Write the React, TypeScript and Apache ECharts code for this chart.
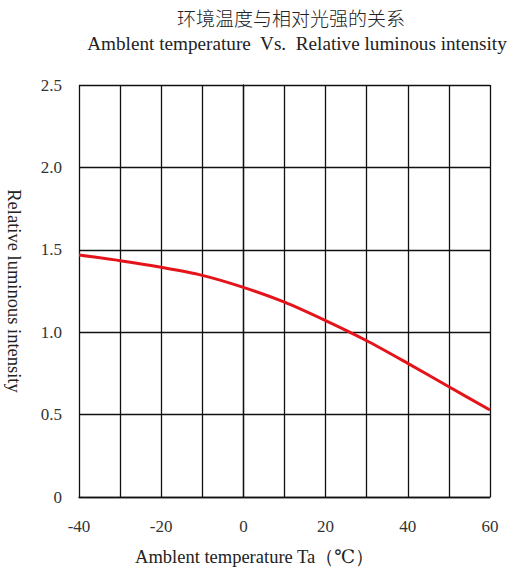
import React, { useEffect, useRef } from "react";
import * as echarts from "echarts";

const temperatures = [-40, -30, -20, -10, 0, 10, 20, 30, 40, 50, 60];
const intensity = [1.468, 1.434, 1.394, 1.345, 1.272, 1.182, 1.07, 0.948, 0.811, 0.669, 0.528];
const titleCn = "环境温度与相对光强的关系";
const titleEn = "Amblent temperature  Vs.  Relative luminous intensity";
const xName = "Amblent temperature Ta（℃）";
const yName = "Relative luminous intensity";

export default function App() {
  const ref = useRef<HTMLDivElement>(null);
  useEffect(() => {
    document.body.style.margin = "0";
    const chart = echarts.init(ref.current!, undefined, { renderer: "svg" });
    const serif = "'Liberation Serif', 'DejaVu Serif', serif";
    chart.setOption({
      animation: false,
      backgroundColor: "#fff",
      graphic: [
        {
          type: "text",
          x: 291,
          y: 17,
          style: {
            text: titleCn,
            fontFamily: "'Noto Sans CJK SC'",
            fontSize: 19,
            fontWeight: 300,
            fill: "#222",
            align: "center",
            verticalAlign: "middle",
          },
        },
        {
          type: "text",
          x: 297,
          y: 43,
          style: {
            text: titleEn,
            fontFamily: serif,
            fontSize: 19.2,
            fill: "#222",
            align: "center",
            verticalAlign: "middle",
          },
        },
      ],
      grid: { left: 79, right: 25, top: 85, bottom: 71, containLabel: false, outerBoundsMode: "none" },
      xAxis: {
        type: "value",
        min: -40,
        max: 60,
        interval: 10,
        name: xName,
        nameLocation: "middle",
        nameGap: 50,
        nameTextStyle: { fontFamily: serif, fontSize: 18.5, color: "#222", padding: [0, 60, 0, 0] },
        axisLine: { show: true, lineStyle: { color: "#111", width: 1.3 } },
        axisTick: { show: false },
        axisLabel: {
          margin: 21,
          fontFamily: serif,
          fontSize: 17,
          color: "#333",
          formatter: (v: number) => (v % 20 === 0 ? String(v) : ""),
        },
        splitLine: { show: true, lineStyle: { color: "#111", width: 1.3 } },
      },
      yAxis: {
        type: "value",
        min: 0,
        max: 2.5,
        interval: 0.5,
        name: yName,
        nameLocation: "middle",
        nameGap: 56,
        nameRotate: -90,
        nameTextStyle: { fontFamily: serif, fontSize: 18.5, color: "#222" },
        axisLine: { show: true, lineStyle: { color: "#111", width: 1.3 } },
        axisTick: { show: false },
        axisLabel: {
          margin: 17,
          fontFamily: serif,
          fontSize: 17,
          color: "#333",
          formatter: (v: number) => (v === 0 ? "0" : v.toFixed(1)),
        },
        splitLine: { show: true, lineStyle: { color: "#111", width: 1.3 } },
      },
      series: [
        {
          type: "line",
          data: temperatures.map((t, i) => [t, intensity[i]]),
          smooth: 0.3,
          showSymbol: false,
          lineStyle: { color: "#e5141b", width: 3 },
        },
      ],
    });
    return () => chart.dispose();
  }, []);
  return <div ref={ref} style={{ width: 515, height: 568 }} />;
}
